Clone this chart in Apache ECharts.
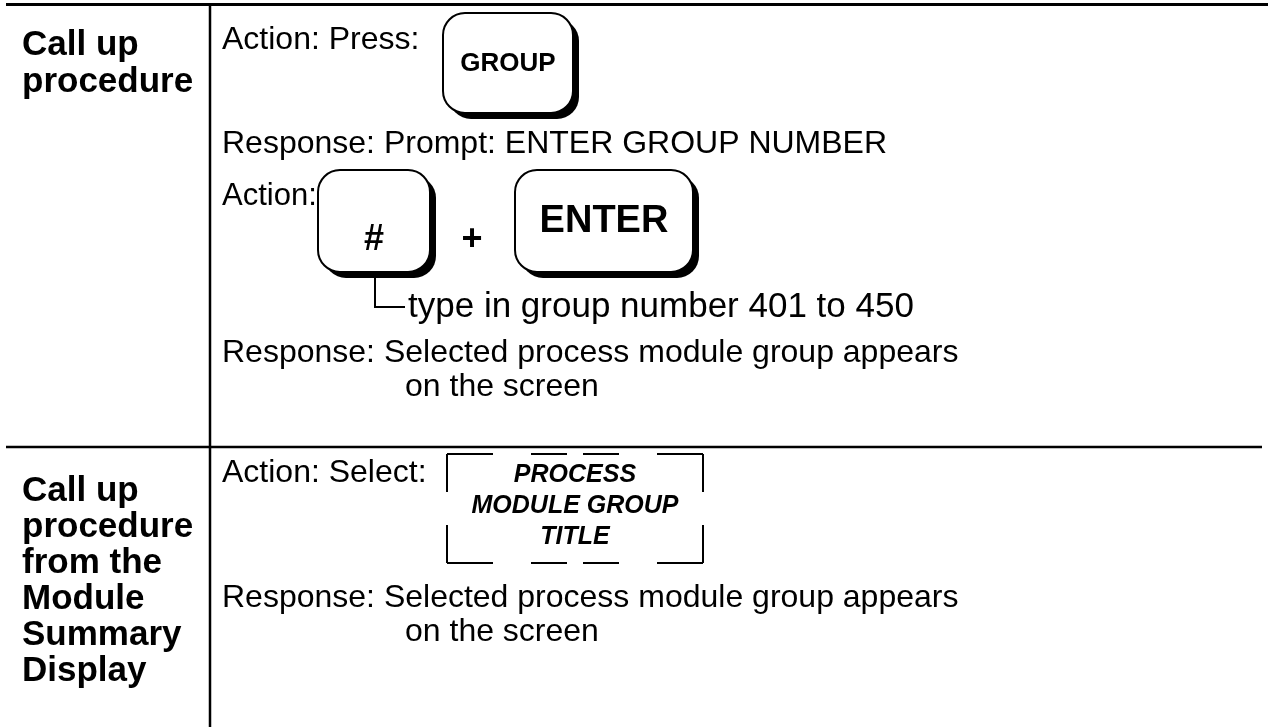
<!DOCTYPE html>
<html>
<head>
<meta charset="utf-8">
<script src="https://cdn.jsdelivr.net/npm/echarts@6/dist/echarts.min.js"></script>
<style>html,body{margin:0;padding:0;background:#fff}#c{width:1268px;height:727px}</style>
</head>
<body>
<div id="c"></div>
<script>
// ---- content ----
var sectionLabels1 = ['Call up', 'procedure'];
var sectionLabels2 = ['Call up', 'procedure', 'from the', 'Module', 'Summary', 'Display'];
var section1Lines = ['Action: Press:', 'Response: Prompt: ENTER GROUP NUMBER', 'Action:',
  'Response: Selected process module group appears', 'on the screen'];
var section2Lines = ['Action: Select:', 'Response: Selected process module group appears', 'on the screen'];
var keyLabels = ['GROUP', '#', 'ENTER'];
var joinSymbol = '+';
var noteText = 'type in group number 401 to 450';
var displayTarget = ['PROCESS', 'MODULE GROUP', 'TITLE'];

// ---- drawing ----
var FF = '"Liberation Sans", Arial, Helvetica, sans-serif';
var els = [];
function txt(t, x, baseline, size, weight, align, style) {
  els.push({
    type: 'text',
    style: {
      text: t, x: x, y: baseline - size * 0.35, fill: '#000',
      font: (style || 'normal') + ' ' + (weight || 'normal') + ' ' + size + 'px ' + FF,
      textAlign: align || 'left', align: align || 'left',
      textVerticalAlign: 'middle', verticalAlign: 'middle'
    }
  });
}
function line(x1, y1, x2, y2, w) {
  els.push({ type: 'line', shape: { x1: x1, y1: y1, x2: x2, y2: y2 }, style: { stroke: '#000', lineWidth: w || 2 } });
}
function key(label, x, y, w, h, fs, cy) {
  els.push({ type: 'rect', shape: { x: x + 6, y: y + 6, width: w, height: h, r: 22 }, style: { fill: '#000' } });
  els.push({ type: 'rect', shape: { x: x, y: y, width: w, height: h, r: 22 }, style: { fill: '#fff', stroke: '#000', lineWidth: 2 } });
  els.push({
    type: 'text',
    style: {
      text: label, x: x + w / 2, y: cy, fill: '#000',
      font: 'bold ' + fs + 'px ' + FF,
      textAlign: 'center', align: 'center', textVerticalAlign: 'middle', verticalAlign: 'middle'
    }
  });
}

// table rules
line(6, 4.5, 1268, 4.5, 3);
line(6, 447, 1262, 447, 2.5);
line(210, 3, 210, 727, 2.5);

// left labels
sectionLabels1.forEach(function (t, i) { txt(t, 22, 58 + i * 37, 35, 'bold'); });
sectionLabels2.forEach(function (t, i) { txt(t, 22, 504 + i * 36, 35, 'bold'); });

// section 1 text
var RX = 222, FS = 32;
txt(section1Lines[0], RX, 51, FS);
txt(section1Lines[1], RX, 155, FS);
txt(section1Lines[2], RX, 207, 31);
txt(section1Lines[3], RX, 364, FS);
txt(section1Lines[4], 405, 398, FS);

// keys
key(keyLabels[0], 443, 13, 130, 100, 26, 64);
key(keyLabels[1], 318, 170, 112, 102, 36, 240);
key(keyLabels[2], 515, 170, 178, 102, 38, 222);
txt(joinSymbol, 472, 253, 36, 'bold', 'center');

// bracket + note
els.push({ type: 'polyline', shape: { points: [[375, 278], [375, 307], [405, 307]] }, style: { stroke: '#000', lineWidth: 2, fill: null } });
txt(noteText, 408, 320, 35);

// section 2 text
txt(section2Lines[0], RX, 484, FS);
txt(section2Lines[1], RX, 609, FS);
txt(section2Lines[2], 405, 643, FS);

// dashed display-target box
var bx1 = 447, bx2 = 703, by1 = 454, by2 = 563;
[[0, 46], [84, 120], [136, 172], [210, 256]].forEach(function (s) {
  line(bx1 + s[0], by1, bx1 + s[1], by1, 2);
  line(bx1 + s[0], by2, bx1 + s[1], by2, 2);
});
[[0, 38], [71, 109]].forEach(function (s) {
  line(bx1, by1 + s[0], bx1, by1 + s[1], 2);
  line(bx2, by1 + s[0], bx2, by1 + s[1], 2);
});
displayTarget.forEach(function (t, i) {
  txt(t, (bx1 + bx2) / 2, 484 + i * 31, 25, 'bold', 'center', 'italic');
});

var chart = echarts.init(document.getElementById('c'), null, { renderer: 'canvas' });
chart.setOption({ backgroundColor: '#fff', animation: false, graphic: { elements: els } });
</script>
</body>
</html>
